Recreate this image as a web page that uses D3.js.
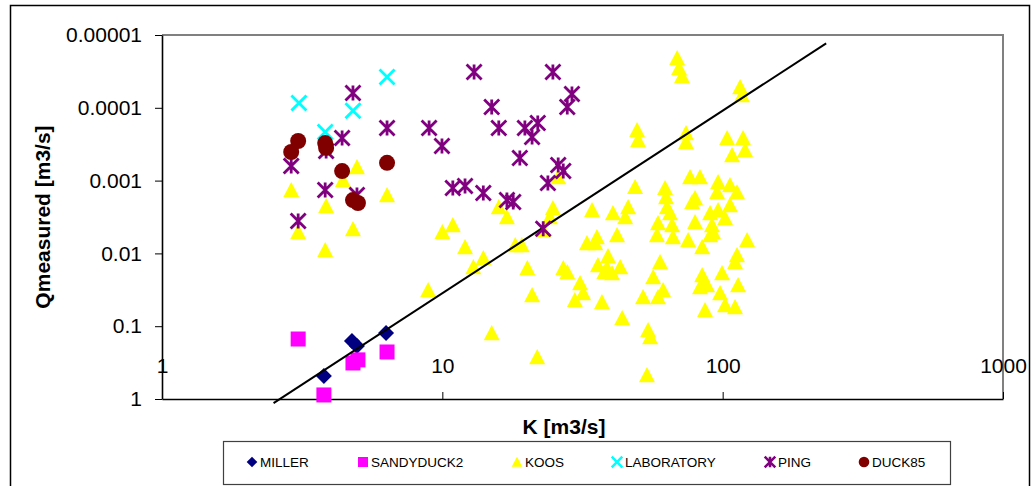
<!DOCTYPE html>
<html>
<head>
<meta charset="utf-8">
<script src="https://cdn.jsdelivr.net/npm/d3@7"></script>
<style>
  body { margin: 0; background: #fff; }
  svg { display: block; font-family: "Liberation Sans", Arial, sans-serif; }
</style>
</head>
<body>
<svg width="1031" height="486"></svg>
<script>
// series values, [K, Qmeasured]
const miller = [[3.78, 0.483], [4.76, 0.16], [4.96, 0.187], [6.3, 0.124]];
const sandyduck2 = [[3.06, 0.15], [4.8, 0.32], [5.0, 0.29], [6.35, 0.226], [3.78, 0.88]];
const laboratory = [[3.08, 8.6e-5], [3.82, 2.15e-4], [4.8, 1.1e-4], [6.35, 3.78e-5]];
const duck85 = [[3.06, 2.86e-4], [2.89, 4.05e-4], [3.82, 3.05e-4], [3.85, 3.56e-4],
  [4.39, 7.4e-4], [6.35, 5.7e-4], [4.8, 1.85e-3], [5.0, 2.03e-3]];
const ping = [[4.8, 6.27e-5], [4.39, 2.6e-4], [3.85, 3.92e-4], [2.89, 6.3e-4], [6.35, 1.89e-4],
  [8.97, 1.89e-4], [9.97, 3.35e-4], [3.82, 1.35e-3], [4.96, 1.58e-3], [3.06, 3.59e-3],
  [10.9, 1.26e-3], [12.05, 1.19e-3], [12.98, 3.22e-5], [24.8, 3.22e-5], [29.0, 6.46e-5],
  [27.9, 9.75e-5], [15.0, 9.75e-5], [15.9, 1.89e-4], [19.7, 1.89e-4], [21.9, 1.62e-4],
  [20.9, 2.52e-4], [18.9, 4.9e-4], [25.9, 6.1e-4], [27.0, 7.4e-4], [23.8, 1.08e-3],
  [14.0, 1.48e-3], [17.0, 1.85e-3], [17.9, 1.97e-3], [22.9, 4.6e-3]];
const koos = [[2.89, 1.35e-3], [3.85, 2.23e-3], [3.06, 5.08e-3], [4.42, 9.8e-4], [4.96, 6.5e-4],
  [6.35, 1.58e-3], [4.8, 4.62e-3], [3.82, 8.98e-3], [10, 5.08e-3], [10.9, 4.07e-3],
  [8.9, 0.0318], [12.05, 8.17e-3], [14.0, 0.0116], [12.9, 0.0154], [15.0, 0.124],
  [15.9, 2.31e-3], [17.0, 3.16e-3], [18.2, 7.67e-3], [19.2, 7.67e-3], [20.1, 0.0159],
  [20.9, 0.0373], [21.8, 0.265], [22.9, 4.77e-3], [24.2, 3.16e-3], [24.8, 2.38e-3],
  [25.9, 8.93e-4], [27.0, 0.0159], [27.9, 0.018], [29.7, 0.0437], [31.0, 0.0255],
  [31.8, 0.035], [32.8, 7.2e-3], [34.2, 2.53e-3], [35.1, 7.2e-3], [35.9, 0.0144],
  [35.6, 5.96e-3], [37.1, 0.0466], [37.8, 0.018], [38.7, 0.0159], [39.0, 0.0109],
  [40.3, 0.0186], [40.6, 2.79e-3], [42.0, 5.59e-3], [43.1, 0.0154], [43.8, 0.0771],
  [44.9, 3.16e-3], [46.0, 2.31e-3], [48.7, 1.22e-3], [49.5, 2.02e-4], [49.9, 2.77e-4],
  [52.0, 0.0397], [53.7, 0.468], [54.2, 0.113], [55.1, 0.141], [56.5, 0.0211],
  [58.8, 0.0397], [59.8, 0.0131], [61.3, 0.0318], [58.3, 5.59e-3], [62.3, 1.26e-3],
  [62.8, 1.68e-3], [63.3, 2.31e-3], [64.9, 2.79e-3], [66.0, 4.07e-3], [66.5, 5.96e-3],
  [58.8, 3.82e-3], [68.8, 2.07e-5], [69.9, 2.84e-5], [71.6, 3.66e-5], [74.0, 2.22e-4],
  [74.0, 2.95e-4], [75.3, 6.55e-3], [76.5, 8.93e-4], [77.8, 1.97e-3], [79.7, 1.73e-3],
  [79.7, 3.71e-3], [83.0, 8.93e-4], [83.0, 0.029], [84.5, 8.17e-3], [84.5, 0.0198],
  [85.1, 0.0255], [86.5, 0.0599], [88.0, 0.0272], [90.2, 2.79e-3], [90.2, 5.59e-3],
  [91.6, 4.07e-3], [92.4, 5.08e-3], [95.5, 1.44e-3], [96.3, 1.045e-3], [96.3, 2.53e-3],
  [97.9, 0.035], [99.5, 0.0186], [102, 3.27e-3], [102, 0.0512], [103.7, 2.6e-4],
  [106.2, 1.15e-3], [106.2, 2.16e-3], [108, 4.45e-4], [110.7, 0.0545], [110.7, 0.0131],
  [112.5, 1.44e-3], [112.5, 0.0105], [113.5, 0.0272], [115.4, 5.18e-5], [117.2, 6.67e-5],
  [118.2, 2.6e-4], [120.2, 3.8e-4], [122.2, 6.55e-3]];

// straight reference line (end points)
const lineK = [2.5, 234];
const lineQ = [1.14, 1.3e-5];

// ticks
const xTicks = [1, 10, 100, 1000];
const xTickLabels = ["1", "10", "100", "1000"];
const yTicks = [1e-5, 1e-4, 1e-3, 1e-2, 1e-1, 1];
const yTickLabels = ["0.00001", "0.0001", "0.001", "0.01", "0.1", "1"];

let svg = d3.select("svg");

//scales: x log 1..1000, y log reversed (small at top)
let x = d3.scaleLog().domain([1, 1000]).range([162, 1003]);
let y = d3.scaleLog().domain([1e-5, 1]).range([35, 399]);

//outer chart frame
svg.append("rect")
  .attr("x", 10.5).attr("y", 5.5)
  .attr("width", 1019).attr("height", 500)
  .attr("fill", "#fff").attr("stroke", "#000").attr("stroke-width", 1.5);

//plot area top/right border (gray)
svg.append("path")
  .attr("d", "M162," + y(1e-5) + "H" + x(1000) + "V" + y(1))
  .attr("fill", "none").attr("stroke", "#808080").attr("stroke-width", 2);

//Y axis
let yAxis = svg.append("g")
  .attr("transform", "translate(" + x(1) + ",0)")
  .call(d3.axisLeft(y).tickValues(yTicks)
    .tickFormat(function(d, i) { return yTickLabels[i]; })
    .tickSizeInner(7).tickSizeOuter(0).tickPadding(13));

//X axis, labels sit above the axis line
let xAxis = svg.append("g")
  .attr("transform", "translate(0," + y(1) + ")")
  .call(d3.axisTop(x).tickValues(xTicks)
    .tickFormat(function(d, i) { return xTickLabels[i]; })
    .tickSizeInner(7).tickSizeOuter(0).tickPadding(19));

[yAxis, xAxis].forEach(function(a) {
  a.select(".domain").attr("stroke", "#000").attr("stroke-width", 1.6);
  a.selectAll(".tick line").attr("stroke", "#000").attr("stroke-width", 1);
  a.selectAll(".tick text")
    .attr("fill", "#000")
    .style("font-size", "21px")
    .style("font-family", "'Liberation Sans', Arial, sans-serif");
});

//axis titles
svg.append("text")
  .attr("x", 564).attr("y", 434)
  .attr("text-anchor", "middle")
  .style("font-size", "21px").style("font-weight", "bold")
  .text("K [m3/s]");

svg.append("text")
  .attr("transform", "translate(50,217) rotate(-90)")
  .attr("text-anchor", "middle")
  .style("font-size", "21px").style("font-weight", "bold")
  .text("Qmeasured [m3/s]");

//marker shapes
function shapePath(type, s) {
  if (type == "diamond") return "M0," + -s + "L" + s + ",0L0," + s + "L" + -s + ",0Z";
  if (type == "square") return "M" + -s + "," + -s + "h" + 2 * s + "v" + 2 * s + "h" + -2 * s + "Z";
  if (type == "triangle") return "M0," + -s + "L" + s + "," + s * 0.9 + "L" + -s + "," + s * 0.9 + "Z";
  if (type == "circle") return "M" + s + ",0A" + s + "," + s + " 0 1,1 " + -s + ",0A" + s + "," + s + " 0 1,1 " + s + ",0Z";
  if (type == "x") return "M" + -s + "," + -s + "L" + s + "," + s + "M" + -s + "," + s + "L" + s + "," + -s;
  if (type == "star") return "M" + -s + "," + -s + "L" + s + "," + s + "M" + -s + "," + s + "L" + s + "," + -s + "M0," + -s + "V" + s;
}

const series = [
  { name: "MILLER", data: miller, type: "diamond", color: "#000080", size: 8, stroke: false },
  { name: "SANDYDUCK2", data: sandyduck2, type: "square", color: "#FF00FF", size: 7.5, stroke: false },
  { name: "KOOS", data: koos, type: "triangle", color: "#FFFF00", size: 8, stroke: false },
  { name: "LABORATORY", data: laboratory, type: "x", color: "#00FFFF", size: 7.5, stroke: true },
  { name: "PING", data: ping, type: "star", color: "#800080", size: 7.5, stroke: true },
  { name: "DUCK85", data: duck85, type: "circle", color: "#800000", size: 8, stroke: false }
];

function drawSeries(s) {
  svg.append("g").attr("class", "series")
    .selectAll("path")
    .data(s.data)
    .enter()
    .append("path")
    .attr("transform", function(d) { return "translate(" + x(d[0]) + "," + y(d[1]) + ")"; })
    .attr("d", shapePath(s.type, s.size))
    .attr("fill", s.stroke ? "none" : s.color)
    .attr("stroke", s.stroke ? s.color : "none")
    .attr("stroke-width", s.stroke ? 2.8 : 0);
}

drawSeries(series[0]);
drawSeries(series[1]);
drawSeries(series[2]);

//reference line
let lineData = lineK.map(function(k, i) { return [k, lineQ[i]]; });
svg.append("path")
  .attr("d", d3.line().x(function(d) { return x(d[0]); }).y(function(d) { return y(d[1]); })(lineData))
  .attr("fill", "none").attr("stroke", "#000").attr("stroke-width", 2);

drawSeries(series[3]);
drawSeries(series[4]);
drawSeries(series[5]);

//legend
svg.append("rect")
  .attr("x", 223.5).attr("y", 441.5)
  .attr("width", 727).attr("height", 43)
  .attr("fill", "#fff").attr("stroke", "#404040").attr("stroke-width", 1.2);

const legendX = [252, 363, 517, 617, 770, 864];
series.forEach(function(s, i) {
  let lg = svg.append("g").attr("transform", "translate(" + legendX[i] + ",462)");
  lg.append("path")
    .attr("d", shapePath(s.type, s.type == "square" ? 5 : 5.3))
    .attr("fill", s.stroke ? "none" : s.color)
    .attr("stroke", s.stroke ? s.color : "none")
    .attr("stroke-width", s.stroke ? 2.5 : 0);
  lg.append("text")
    .attr("x", 8).attr("y", 5)
    .style("font-size", "13.5px")
    .attr("fill", "#000")
    .text(s.name);
});
</script>
</body>
</html>
